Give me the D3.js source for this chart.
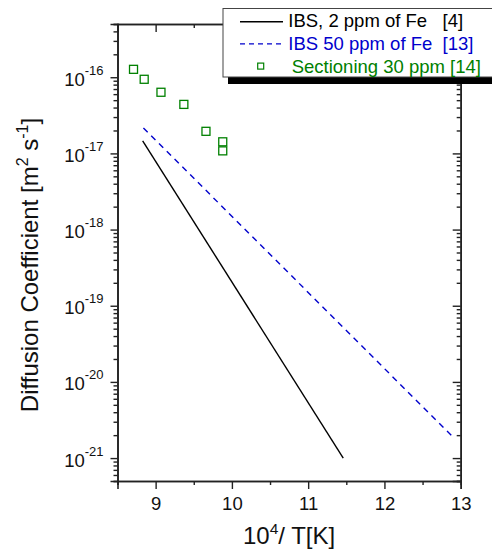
<!DOCTYPE html>
<html>
<head>
<meta charset="utf-8">
<script src="https://cdn.jsdelivr.net/npm/d3@7"></script>
<style>
  body { margin: 0; background: #fff; }
  svg { display: block; font-family: "Liberation Sans", Arial, sans-serif; }
</style>
</head>
<body>
<div id="chart"></div>
<script>
// **Dữ liệu**
const ibs2X = [8.83, 11.46];
const ibs2Y = [1.46e-17, 1.0e-21];
const ibs50X = [8.84, 12.92];
const ibs50Y = [2.16e-17, 1.8e-21];
const sectioningX = [8.71, 8.85, 9.07, 9.37, 9.66, 9.88, 9.88];
const sectioningY = [1.27e-16, 9.4e-17, 6.35e-17, 4.4e-17, 1.95e-17, 1.42e-17, 1.08e-17];
const xTicks = [9, 10, 11, 12, 13];
const xMinorTicks = [8.5, 9.5, 10.5, 11.5, 12.5];
const yExponents = [-16, -17, -18, -19, -20, -21];
const legendLabels = ["IBS, 2 ppm of Fe   [4]", "IBS 50 ppm of Fe  [13]", "Sectioning 30 ppm [14]"];
const legendColors = ["#000000", "#0000cc", "#008000"];

document.addEventListener("DOMContentLoaded", function () {
    const width = 492, height = 550;
    const margin = { top: 24, right: 31.3, bottom: 69, left: 117.5 };
    const w = width - margin.left - margin.right;
    const h = height - margin.top - margin.bottom;

    const svg = d3.select("#chart").append("svg")
        .attr("width", width)
        .attr("height", height);
    const g = svg.append("g")
        .attr("transform", `translate(${margin.left},${margin.top})`);

    // **Scale**
    const x = d3.scaleLinear().domain([8.5, 13]).range([0, w]);
    const y = d3.scaleLog().domain([5e-22, 5e-16]).range([h, 0]);

    const yMajor = yExponents.map(e => Math.pow(10, e));
    const yMinor = [];
    for (let e = -22; e <= -16; e++) {
        for (let k = 2; k <= 9; k++) {
            const v = k * Math.pow(10, e);
            if (v >= 5e-22 * 0.999 && v <= 5e-16 * 1.001) yMinor.push(v);
        }
    }

    const styleAxis = sel => {
        sel.select(".domain").attr("stroke", "#222").attr("stroke-width", 1.6);
        sel.selectAll(".tick line").attr("stroke", "#222").attr("stroke-width", 1.4);
        sel.selectAll(".tick text").remove();
    };

    // **Trục trên và phải (ticks hướng vào trong)**
    g.append("g")
        .call(d3.axisTop(x).tickValues(xTicks).tickSize(-8).tickFormat(""))
        .call(styleAxis);
    g.append("g")
        .call(d3.axisTop(x).tickValues(xMinorTicks).tickSize(-4).tickFormat(""))
        .call(styleAxis);
    g.append("g").attr("transform", `translate(${w},0)`)
        .call(d3.axisRight(y).tickValues(yMajor).tickSize(-8).tickFormat(""))
        .call(styleAxis);
    g.append("g").attr("transform", `translate(${w},0)`)
        .call(d3.axisRight(y).tickValues(yMinor).tickSize(-4).tickFormat(""))
        .call(styleAxis);

    // **Trục dưới**
    g.append("g").attr("transform", `translate(0,${h})`)
        .call(d3.axisBottom(x).tickValues(xMinorTicks).tickSize(4).tickFormat(""))
        .call(styleAxis);
    const xAxis = g.append("g").attr("transform", `translate(0,${h})`)
        .call(d3.axisBottom(x).tickValues(xTicks).tickSize(8).tickFormat(""))
        .call(styleAxis);
    xAxis.selectAll(".tick").append("text")
        .attr("y", 29)
        .attr("text-anchor", "middle")
        .attr("font-size", "18.5px")
        .attr("fill", "#111")
        .text(d => d);

    // **Trục trái**
    g.append("g")
        .call(d3.axisLeft(y).tickValues(yMinor).tickSize(4).tickFormat(""))
        .call(styleAxis);
    const yAxis = g.append("g")
        .call(d3.axisLeft(y).tickValues(yMajor).tickSize(7).tickFormat(""))
        .call(styleAxis);
    const yLab = yAxis.selectAll(".tick").append("text")
        .attr("x", -14)
        .attr("y", 8)
        .attr("text-anchor", "end")
        .attr("font-size", "18.5px")
        .attr("fill", "#111");
    yLab.append("tspan").text("10");
    yLab.append("tspan")
        .attr("dy", -11)
        .attr("font-size", "13px")
        .text((d, i) => String(yExponents[i]));

    // **Đường dữ liệu**
    const line = d3.line().x(d => x(d[0])).y(d => y(d[1]));
    g.append("path")
        .datum(d3.zip(ibs2X, ibs2Y))
        .attr("d", line)
        .attr("fill", "none")
        .attr("stroke", legendColors[0])
        .attr("stroke-width", 1.4);
    g.append("path")
        .datum(d3.zip(ibs50X, ibs50Y))
        .attr("d", line)
        .attr("fill", "none")
        .attr("stroke", legendColors[1])
        .attr("stroke-width", 1.4)
        .attr("stroke-dasharray", "6,5");
    g.selectAll(".sq")
        .data(d3.zip(sectioningX, sectioningY))
        .enter()
        .append("rect")
        .attr("class", "sq")
        .attr("x", d => x(d[0]) - 4)
        .attr("y", d => y(d[1]) - 4)
        .attr("width", 8)
        .attr("height", 8)
        .attr("fill", "none")
        .attr("stroke", legendColors[2])
        .attr("stroke-width", 1.3);

    // **Tiêu đề trục**
    const xt = svg.append("text")
        .attr("x", margin.left + w / 2)
        .attr("y", 544)
        .attr("text-anchor", "middle")
        .attr("font-size", "24px")
        .attr("fill", "#111");
    xt.append("tspan").text("10");
    xt.append("tspan").attr("dy", -10).attr("font-size", "15.5px").text("4");
    xt.append("tspan").attr("dy", 10).text("/ T[K]");

    const yt = svg.append("text")
        .attr("transform", "translate(37.5,265) rotate(-90)")
        .attr("text-anchor", "middle")
        .attr("font-size", "24px")
        .attr("fill", "#111");
    yt.append("tspan").text("Diffusion Coefficient [m");
    yt.append("tspan").attr("dy", -10).attr("font-size", "16px").text("2");
    yt.append("tspan").attr("dy", 10).text(" s");
    yt.append("tspan").attr("dy", -10).attr("font-size", "16px").text("-1");
    yt.append("tspan").attr("dy", 10).text("]");

    // **Chú thích**
    const lg = svg.append("g");
    lg.append("rect")
        .attr("x", 228).attr("y", 15)
        .attr("width", 280).attr("height", 69)
        .attr("fill", "#000");
    lg.append("rect")
        .attr("x", 223).attr("y", 8.5)
        .attr("width", 280).attr("height", 68.5)
        .attr("fill", "#fff")
        .attr("stroke", "#444")
        .attr("stroke-width", 1);
    legendLabels.forEach((t, i) => {
        const cy = 21.7 + i * 22.2;
        if (i < 2) {
            lg.append("line")
                .attr("x1", 240).attr("x2", 283)
                .attr("y1", cy).attr("y2", cy)
                .attr("stroke", legendColors[i])
                .attr("stroke-width", 1.4)
                .attr("stroke-dasharray", i === 1 ? "5,4" : null);
        } else {
            lg.append("rect")
                .attr("x", 257.7).attr("y", cy - 3)
                .attr("width", 6).attr("height", 6)
                .attr("fill", "none")
                .attr("stroke", legendColors[i])
                .attr("stroke-width", 1.2);
        }
        lg.append("text")
            .attr("x", i === 2 ? 291.7 : 288.3)
            .attr("y", 26.7 + i * 23)
            .attr("font-size", "18.5px")
            .attr("fill", legendColors[i])
            .style("white-space", "pre")
            .text(t);
    });
});
</script>
</body>
</html>
